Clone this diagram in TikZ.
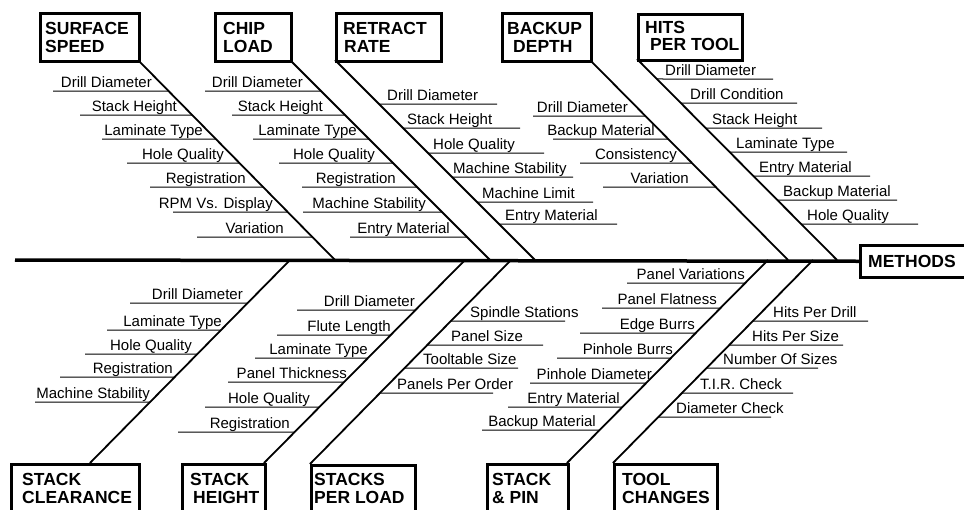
\documentclass[tikz,border=0pt]{standalone}
\usepackage{fontspec}
\setmainfont{Liberation Sans}
\usetikzlibrary{calc}
\tikzset{
  bone/.style={line width=1.8pt},
  spine/.style={line width=3.5pt},
  rib/.style={line width=1pt},
  ribtxt/.style={font=\fontsize{15}{15}\selectfont, inner sep=0pt},
  boxtxt/.style={font=\fontsize{17.5}{17.5}\selectfont\bfseries, inner sep=0pt, anchor=base west},
  catbox/.style={draw, line width=2.5pt, inner sep=0pt, anchor=north west},
}
\begin{document}
\begin{tikzpicture}[x=1pt,y=-1pt]
\useasboundingbox (0,0) rectangle (964,509);
\clip (0,0) rectangle (964,509);
\fill[white] (0,0) rectangle (964,509);

% ---------- boxes ----------
\node[catbox, minimum width=99pt, minimum height=48pt] (ss) at (39,12) {};
\node[boxtxt] (ss1) at (45,34) {SURFACE};
\node[boxtxt] (ss2) at (45,52) {SPEED};
\node[catbox, minimum width=76pt, minimum height=48pt] (cl) at (214,12) {};
\node[boxtxt] (cl1) at (223,34) {CHIP};
\node[boxtxt] (cl2) at (223,52) {LOAD};
\node[catbox, minimum width=105pt, minimum height=48pt] (rr) at (335,12) {};
\node[boxtxt] (rr1) at (343,34) {RETRACT};
\node[boxtxt] (rr2) at (344,52) {RATE};
\node[catbox, minimum width=89pt, minimum height=48pt] (bd) at (501,12) {};
\node[boxtxt] (bd1) at (507,34) {BACKUP};
\node[boxtxt] (bd2) at (513,52) {DEPTH};
\node[catbox, minimum width=104pt, minimum height=46pt] (ht) at (637,13) {};
\node[boxtxt] (ht1) at (645,33) {HITS};
\node[boxtxt] (ht2) at (650,50) {PER TOOL};
\node[catbox, minimum width=120pt, minimum height=32pt] (me) at (859,244) {};
\node[boxtxt] (me1) at (868,267) {METHODS};

\node[catbox, minimum width=128pt, minimum height=70pt] (sc) at (10,463) {};
\node[boxtxt] (sc1) at (22,485) {STACK};
\node[boxtxt] (sc2) at (22,503) {CLEARANCE};
\node[catbox, minimum width=83pt, minimum height=70pt] (sh) at (181,463) {};
\node[boxtxt] (sh1) at (190,485) {STACK};
\node[boxtxt] (sh2) at (193,503) {HEIGHT};
\node[catbox, minimum width=104pt, minimum height=70pt] (sp) at (310,464) {};
\node[boxtxt] (sp1) at (314,485) {STACKS};
\node[boxtxt] (sp2) at (314,503) {PER LOAD};
\node[catbox, minimum width=81pt, minimum height=70pt] (sn) at (486,463) {};
\node[boxtxt] (sn1) at (492,485) {STACK};
\node[boxtxt] (sn2) at (492,503) {\& PIN};
\node[catbox, minimum width=103pt, minimum height=70pt] (tc) at (613,463) {};
\node[boxtxt] (tc1) at (622,485) {TOOL};
\node[boxtxt] (tc2) at (622,503) {CHANGES};

% ---------- spine ----------
\coordinate (tail) at (15,260);
\draw[spine] (tail) -- (me.west);

% ---------- bone end points ----------
\coordinate (ssA) at (138,60);  \coordinate (ssB) at (335,260);
\coordinate (clA) at (290,60);  \coordinate (clB) at (490,260);
\coordinate (rrA) at (335,60);  \coordinate (rrB) at (535,260);
\coordinate (bdA) at (590,60);  \coordinate (bdB) at (788,260);
\coordinate (htA) at (637,59);  \coordinate (htB) at (837,260);
\coordinate (scA) at (290,260); \coordinate (scB) at (90,463);
\coordinate (shA) at (465,260); \coordinate (shB) at (264,463);
\coordinate (spA) at (511,260); \coordinate (spB) at (310,464);
\coordinate (snA) at (768,260); \coordinate (snB) at (567,463);
\coordinate (tcA) at (813,260); \coordinate (tcB) at (613,463);
\foreach \b in {ss,cl,rr,bd,ht,sc,sh,sp,sn,tc}
  \draw[bone] (\b A) -- (\b B);

% ---------- ribs: top ----------
\foreach \L/\s/\e/\t in {91/53/152/Drill Diameter, 115/80/177/Stack Height,
  139/102/203/Laminate Type, 163/127/224/Hole Quality, 187/150/246/Registration,
  212/173/273/RPM Vs. Display, 237/197/284/Variation}{
  \draw[rib] (\s,\L) -- ($(ssA)!{(\L-60)/200}!(ssB)$);
  \node[ribtxt, anchor=base east] at (\e,\L-3.5) {\t};
}
\foreach \L/\s/\e/\t in {91/205/303/Drill Diameter, 115/232/323/Stack Height,
  139/253/357/Laminate Type, 163/279/375/Hole Quality, 187/302/396/Registration,
  212/303/426/Machine Stability, 237/350/450/Entry Material}{
  \draw[rib] (\s,\L) -- ($(clA)!{(\L-60)/200}!(clB)$);
  \node[ribtxt, anchor=base east] at (\e,\L-3.5) {\t};
}
\foreach \L/\b/\f/\t in {104/387/497/Drill Diameter, 128/407/520/Stack Height,
  153/433/544/Hole Quality, 177/453/573/Machine Stability, 202/482/593/Machine Limit,
  224/505/617/Entry Material}{
  \draw[rib] ($(rrA)!{(\L-60)/200}!(rrB)$) -- (\f,\L);
  \node[ribtxt, anchor=base west] at (\b,\L-3.5) {\t};
}
\foreach \L/\s/\e/\t in {116/533/628/Drill Diameter, 139/553/655/Backup Material,
  163/580/677/Consistency, 187/603/689/Variation}{
  \draw[rib] (\s,\L) -- ($(bdA)!{(\L-60)/200}!(bdB)$);
  \node[ribtxt, anchor=base east] at (\e,\L-3.5) {\t};
}
\foreach \L/\b/\f/\t in {79/665/773/Drill Diameter, 103/690/797/Drill Condition,
  128/712/822/Stack Height, 152/736/847/Laminate Type, 176/759/870/Entry Material,
  200/783/897/Backup Material, 224/807/918/Hole Quality}{
  \draw[rib] ($(htA)!{(\L-59)/201}!(htB)$) -- (\f,\L);
  \node[ribtxt, anchor=base west] at (\b,\L-3.5) {\t};
}

% ---------- ribs: bottom ----------
\foreach \L/\s/\e/\t in {303/130/243/Drill Diameter, 330/107/222/Laminate Type,
  354/85/192/Hole Quality, 377/60/173/Registration, 402/35/150/Machine Stability}{
  \draw[rib] (\s,\L) -- ($(scA)!{(\L-260)/203}!(scB)$);
  \node[ribtxt, anchor=base east] at (\e,\L-3.5) {\t};
}
\foreach \L/\s/\e/\t in {310/297/415/Drill Diameter, 335/277/391/Flute Length,
  358/255/368/Laminate Type, 382/228/347/Panel Thickness, 407/205/310/Hole Quality,
  432/178/290/Registration}{
  \draw[rib] (\s,\L) -- ($(shA)!{(\L-260)/203}!(shB)$);
  \node[ribtxt, anchor=base east] at (\e,\L-3.5) {\t};
}
\foreach \L/\b/\f/\t in {321/470/565/Spindle Stations, 345/451/543/Panel Size,
  368/423/518/Tooltable Size, 393/397/493/Panels Per Order}{
  \draw[rib] ($(spA)!{(\L-260)/204}!(spB)$) -- (\f,\L);
  \node[ribtxt, anchor=base west] at (\b,\L-3.5) {\t};
}
\foreach \L/\s/\e/\t in {283/627/745/Panel Variations, 308/602/717/Panel Flatness,
  333/580/695/Edge Burrs, 358/557/673/Pinhole Burrs, 383/530/652/Pinhole Diameter,
  407/508/620/Entry Material, 430/482/596/Backup Material}{
  \draw[rib] (\s,\L) -- ($(snA)!{(\L-260)/203}!(snB)$);
  \node[ribtxt, anchor=base east] at (\e,\L-3.5) {\t};
}
\foreach \L/\b/\f/\t in {321/773/868/Hits Per Drill, 345/752/843/Hits Per Size,
  368/723/818/Number Of Sizes, 393/700/793/T.I.R. Check, 417/676/771/Diameter Check}{
  \draw[rib] ($(tcA)!{(\L-260)/203}!(tcB)$) -- (\f,\L);
  \node[ribtxt, anchor=base west] at (\b,\L-3.5) {\t};
}
\end{tikzpicture}
\end{document}
